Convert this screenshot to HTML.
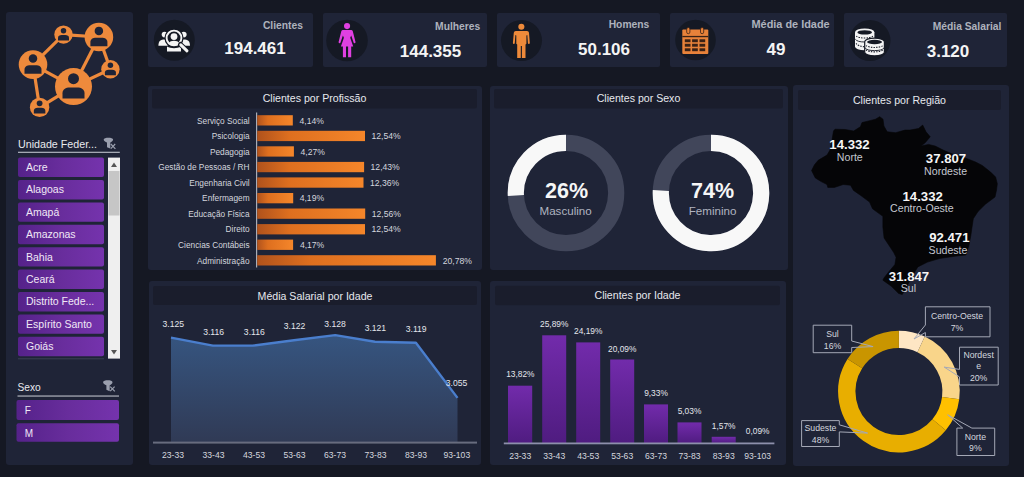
<!DOCTYPE html>
<html><head><meta charset="utf-8">
<style>
html,body{margin:0;padding:0;background:#151823;width:1024px;height:477px;overflow:hidden}
svg{display:block}
text{font-family:"Liberation Sans",sans-serif}
</style></head>
<body>
<svg width="1024" height="477" viewBox="0 0 1024 477">
<defs>
  <linearGradient id="gPurp" x1="0" y1="0" x2="1" y2="0">
    <stop offset="0" stop-color="#55228a"/><stop offset="0.5" stop-color="#682d9c"/><stop offset="1" stop-color="#7533ad"/>
  </linearGradient>
  <linearGradient id="gOr" x1="0" y1="0" x2="1" y2="0">
    <stop offset="0" stop-color="#b0521c"/><stop offset="0.3" stop-color="#de6f1f"/><stop offset="1" stop-color="#f5862a"/>
  </linearGradient>
  <linearGradient id="gBarP" x1="0" y1="0" x2="0" y2="1">
    <stop offset="0" stop-color="#722bab"/><stop offset="1" stop-color="#4f1c80"/>
  </linearGradient>
  <linearGradient id="gArea" x1="0" y1="0" x2="0" y2="1">
    <stop offset="0" stop-color="#365580"/><stop offset="1" stop-color="#303a55"/>
  </linearGradient>
  <g id="person">
    <circle cx="0" cy="-0.36" r="0.25"/>
    <path d="M-0.5 0.54 L-0.5 0.3 C-0.5 0.12 -0.36 0.04 -0.16 0.04 L0.16 0.04 C0.36 0.04 0.5 0.12 0.5 0.3 L0.5 0.54 Z"/>
  </g>
</defs>

<!-- ============ LEFT PANEL ============ -->
<rect x="6" y="12" width="127" height="453" rx="3" fill="#1f2437"/>
<!-- logo -->
<g stroke="#ee8a3c" stroke-width="3.2" fill="none">
  <line x1="33" y1="64.6" x2="63.5" y2="34.6"/>
  <line x1="63.5" y1="34.6" x2="98.9" y2="37"/>
  <line x1="98.9" y1="37" x2="73.5" y2="86.6"/>
  <line x1="98.9" y1="37" x2="110.4" y2="69.3"/>
  <line x1="110.4" y1="69.3" x2="73.5" y2="86.6"/>
  <line x1="33" y1="64.6" x2="73.5" y2="86.6"/>
  <line x1="33" y1="64.6" x2="39.6" y2="107.4"/>
  <line x1="39.6" y1="107.4" x2="73.5" y2="86.6"/>
</g>
<g fill="#ee8a3c">
  <circle cx="63.5" cy="34.6" r="9.2"/>
  <circle cx="98.9" cy="37" r="14.3"/>
  <circle cx="33" cy="64.6" r="14.3"/>
  <circle cx="110.4" cy="69.3" r="9.2"/>
  <circle cx="73.5" cy="86.6" r="18.5"/>
  <circle cx="39.6" cy="107.4" r="9.7"/>
</g>
<g fill="#1f2437">
  <use href="#person" transform="translate(63.5 34.6) scale(11)"/>
  <use href="#person" transform="translate(98.9 37) scale(17)"/>
  <use href="#person" transform="translate(33 64.6) scale(17)"/>
  <use href="#person" transform="translate(110.4 69.3) scale(11)"/>
  <use href="#person" transform="translate(73.5 86.6) scale(22)"/>
  <use href="#person" transform="translate(39.6 107.4) scale(11.5)"/>
</g>

<!-- slicer UF -->
<text x="18" y="147.5" font-size="10.7" fill="#e8e9ee">Unidade Feder...</text>
<g transform="translate(0 0)" fill="#9a9fae">
  <path d="M103.7 139.6 C103.7 137.1 113.1 137.1 113.1 139.6 C113.1 141 111.6 142 110.3 142.6 L110.3 148.6 L107 147.2 L107 142.6 C105.3 142 103.7 141 103.7 139.6 Z"/>
  <path d="M110.8 144 L115.4 148.8 M115.2 144 L110.8 148.6" stroke="#9a9fae" stroke-width="1.2" fill="none"/>
</g>
<rect x="18" y="151.7" width="101.8" height="1.3" fill="#a4a8b3"/>
<g font-size="10.5" fill="#f0e8f6">
  <rect x="18" y="157.6" width="86" height="19.4" rx="2" fill="url(#gPurp)"/><text x="26" y="171">Acre</text>
  <rect x="18" y="180" width="86" height="19.4" rx="2" fill="url(#gPurp)"/><text x="26" y="193.4">Alagoas</text>
  <rect x="18" y="202.4" width="86" height="19.4" rx="2" fill="url(#gPurp)"/><text x="26" y="215.8">Amapá</text>
  <rect x="18" y="224.8" width="86" height="19.4" rx="2" fill="url(#gPurp)"/><text x="26" y="238.2">Amazonas</text>
  <rect x="18" y="247.2" width="86" height="19.4" rx="2" fill="url(#gPurp)"/><text x="26" y="260.6">Bahia</text>
  <rect x="18" y="269.6" width="86" height="19.4" rx="2" fill="url(#gPurp)"/><text x="26" y="283">Ceará</text>
  <rect x="18" y="292" width="86" height="19.4" rx="2" fill="url(#gPurp)"/><text x="26" y="305.4">Distrito Fede...</text>
  <rect x="18" y="314.4" width="86" height="19.4" rx="2" fill="url(#gPurp)"/><text x="26" y="327.8">Espírito Santo</text>
  <rect x="18" y="336.8" width="86" height="19.4" rx="2" fill="url(#gPurp)"/><text x="26" y="350.2">Goiás</text>
</g>
<rect x="18" y="358.3" width="86" height="1" fill="#3b4054"/>
<!-- scrollbar -->
<rect x="108" y="157.6" width="12" height="201" fill="#efefef"/>
<rect x="108.5" y="171" width="11" height="44.5" fill="#c6c6c6"/>
<path d="M111 167 L114 162.5 L117 167 Z" fill="#555"/>
<path d="M111 350 L114 354.5 L117 350 Z" fill="#555"/>

<!-- slicer Sexo -->
<text x="17.5" y="391" font-size="10.2" fill="#e8e9ee">Sexo</text>
<g transform="translate(-0.6 242.6)" fill="#9a9fae">
  <path d="M103.7 139.6 C103.7 137.1 113.1 137.1 113.1 139.6 C113.1 141 111.6 142 110.3 142.6 L110.3 148.6 L107 147.2 L107 142.6 C105.3 142 103.7 141 103.7 139.6 Z"/>
  <path d="M110.8 144 L115.4 148.8 M115.2 144 L110.8 148.6" stroke="#9a9fae" stroke-width="1.2" fill="none"/>
</g>
<rect x="17.5" y="395.4" width="101.5" height="1.3" fill="#a4a8b3"/>
<g font-size="10" fill="#f0e8f6">
  <rect x="16.5" y="400" width="102.5" height="20" rx="2" fill="url(#gPurp)"/><text x="24.7" y="414.4">F</text>
  <rect x="16.5" y="423.2" width="102.5" height="18.6" rx="2" fill="url(#gPurp)"/><text x="24.7" y="436.8">M</text>
</g>

<!-- ============ KPI CARDS ============ -->
<g fill="#1f2437">
  <rect x="148" y="13" width="165" height="54" rx="2"/>
  <rect x="323" y="13" width="164" height="54" rx="2"/>
  <rect x="497" y="13" width="163" height="54" rx="2"/>
  <rect x="670" y="13" width="164" height="54" rx="2"/>
  <rect x="844" y="13" width="163" height="54" rx="2"/>
</g>
<g fill="#151924">
  <circle cx="174.3" cy="40.2" r="20.5"/>
  <circle cx="347" cy="40.5" r="20.8"/>
  <circle cx="521.5" cy="40.5" r="20.5"/>
  <circle cx="695.5" cy="40" r="20.3"/>
  <circle cx="870" cy="40.5" r="20.5"/>
</g>
<g font-weight="bold" text-anchor="end" fill="#aeb2bd" font-size="10.3">
  <text x="303" y="28.8">Clientes</text>
  <text x="480.3" y="29.9">Mulheres</text>
  <text x="649.3" y="28.2">Homens</text>
  <text x="829.6" y="27.8" font-size="10.9">Média de Idade</text>
  <text x="1001.4" y="29.8">Média Salarial</text>
</g>
<g font-weight="bold" text-anchor="middle" fill="#f4f4f4" font-size="17">
  <text x="255" y="53.7">194.461</text>
  <text x="430.5" y="56.9">144.355</text>
  <text x="604" y="55">50.106</text>
  <text x="776" y="55.2">49</text>
  <text x="948" y="56.6">3.120</text>
</g>
<!-- icon clientes -->
<g fill="#f4f4f4">
  <circle cx="164.5" cy="34.6" r="2.8"/>
  <path d="M158.4 45.8 C158.4 40.6 160.8 39.4 164.5 39.4 C167 39.4 168.5 40 169 41 L167.5 45.8 Z"/>
  <circle cx="183.8" cy="34.6" r="2.8"/>
  <path d="M190 45.8 C190 40.6 187.6 39.4 183.8 39.4 C181.5 39.4 180 40 179.5 41 L181 45.8 Z"/>
</g>
<circle cx="174" cy="38" r="9.6" fill="#151924"/>
<g fill="#f4f4f4">
  <path d="M167 51.6 L167 46.5 C169 47.6 171.5 48.2 174 48.2 C176.5 48.2 179 47.6 181 46.5 L181 51.6 Z"/>
</g>
<circle cx="174" cy="38" r="7.4" fill="none" stroke="#f4f4f4" stroke-width="1.9"/>
<g fill="#f4f4f4">
  <circle cx="174" cy="36.6" r="3.4"/>
  <path d="M168.6 43.6 C169.6 41.4 171.6 40.8 174 40.8 C176.4 40.8 178.4 41.4 179.4 43.6 C178 45 176 45.6 174 45.6 C172 45.6 170 45 168.6 43.6 Z"/>
</g>
<line x1="180.5" y1="44.5" x2="187.2" y2="51" stroke="#151924" stroke-width="5" stroke-linecap="round"/>
<line x1="180.8" y1="44.8" x2="187" y2="50.8" stroke="#f4f4f4" stroke-width="3" stroke-linecap="round"/>
<!-- icon woman -->
<g fill="#e040e2">
  <circle cx="347.05" cy="26.1" r="3.05"/>
  <path d="M342.9 30 L351.2 30 Q352.4 30 352.8 31.2 L355.5 42 Q355.6 43.2 354.4 43.2 Q353.8 43.2 353.6 42.6 L351.2 35.5 L350.2 37.8 L353.2 46.6 L351.2 46.6 L351.2 57.2 L348.1 57.2 L348.1 46.6 L346 46.6 L346 57.2 L342.9 57.2 L342.9 46.6 L340.9 46.6 L343.9 37.8 L342.9 35.5 L340.5 42.6 Q340.3 43.2 339.7 43.2 Q338.5 43.2 338.6 42 L341.3 31.2 Q341.7 30 342.9 30 Z"/>
</g>
<!-- icon man -->
<g fill="#ee8a3a">
  <circle cx="521.35" cy="26.8" r="3.05"/>
  <path d="M515.8 30.9 L527 30.9 Q528.8 30.9 529 32.8 L529.8 43 Q529.8 44 528.8 44 Q528 44 527.9 43 L527.3 35 L526.4 35.5 L526.4 43.8 L525.5 44.5 L525.5 58.1 L521.9 58.1 L521.9 46 L520.8 46 L520.8 58.1 L517.2 58.1 L517.2 44.5 L516.3 43.8 L516.3 35.5 L515.4 35 L514.8 43 Q514.7 44 513.9 44 Q512.9 44 512.9 43 L513.8 32.8 Q514 30.9 515.8 30.9 Z"/>
</g>
<!-- icon calendar -->
<g>
  <rect x="682.3" y="29.6" width="26" height="24.4" rx="1" fill="#e8823a"/>
  <rect x="682.3" y="35.9" width="26" height="1.3" fill="#3a2216"/>
  <g fill="#3a2216"><rect x="684.8" y="39.3" width="5.7" height="2.9"/><rect x="692.1" y="39.3" width="5.7" height="2.9"/><rect x="699.5" y="39.3" width="5.7" height="2.9"/><rect x="684.8" y="43.8" width="5.7" height="2.9"/><rect x="692.1" y="43.8" width="5.7" height="2.9"/><rect x="699.5" y="43.8" width="5.7" height="2.9"/><rect x="684.8" y="48.3" width="5.7" height="2.9"/><rect x="692.1" y="48.3" width="5.7" height="2.9"/><rect x="699.5" y="48.3" width="5.7" height="2.9"/></g>
  <rect x="686.7" y="27.5" width="3.2" height="6.2" rx="1.6" fill="#e8823a" stroke="#3a2216" stroke-width="0.8"/>
  <rect x="700.5" y="27.5" width="3.2" height="6.2" rx="1.6" fill="#e8823a" stroke="#3a2216" stroke-width="0.8"/>
</g>
<!-- icon coins -->
<g>
  <path d="M855 32.2 L855 46.6 A9.7 3.7 0 0 0 874.4 46.6 L874.4 32.2 A9.7 3.7 0 0 0 855 32.2 Z" fill="#f4f4f4"/>
  <ellipse cx="864.7" cy="32.4" rx="7.3" ry="2.2" fill="#151924"/>
  <path d="M855.3 39.2 A9.7 3.7 0 0 0 874.1 39.2" stroke="#151924" stroke-width="0.9" fill="none"/>
  <path d="M856.3 36.2 A9.7 3.7 0 0 0 873.1 36.2" stroke="#151924" stroke-width="1.1" fill="none" stroke-dasharray="1.4 1.2"/>
  <path d="M856.3 43.2 A9.7 3.7 0 0 0 866 46.8" stroke="#151924" stroke-width="1.1" fill="none" stroke-dasharray="1.4 1.2"/>
  <path d="M864.7 41.8 L864.7 52.2 A9.85 3.7 0 0 0 884.4 52.2 L884.4 41.8 A9.85 3.7 0 0 0 864.7 41.8 Z" fill="#f4f4f4" stroke="#151924" stroke-width="1.2"/>
  <ellipse cx="874.55" cy="42" rx="7.5" ry="2.2" fill="#151924"/>
  <path d="M865 47.8 A9.85 3.7 0 0 0 884.1 47.8" stroke="#151924" stroke-width="0.9" fill="none"/>
  <path d="M866 45.6 A9.85 3.7 0 0 0 883.1 45.6" stroke="#151924" stroke-width="1.1" fill="none" stroke-dasharray="1.4 1.2"/>
  <path d="M866 50 A9.85 3.7 0 0 0 883.1 50" stroke="#151924" stroke-width="1.1" fill="none" stroke-dasharray="1.4 1.2"/>
</g>

<!-- ============ PROFISSAO ============ -->
<rect x="148" y="86" width="334" height="184" rx="3" fill="#1f2437"/>
<rect x="152" y="89" width="325" height="19.5" rx="2" fill="#1a1d2c"/>
<text x="314.5" y="102.3" font-size="10.6" text-anchor="middle" fill="#e6e8ee">Clientes por Profissão</text>
<rect x="256" y="112.5" width="1.2" height="155" fill="#a9adb8"/>
<g fill="url(#gOr)">
  <rect x="257.2" y="115.2" width="35.6" height="10.3"/>
  <rect x="257.2" y="130.8" width="107.8" height="10.3"/>
  <rect x="257.2" y="146.3" width="36.7" height="10.3"/>
  <rect x="257.2" y="161.9" width="106.9" height="10.3"/>
  <rect x="257.2" y="177.4" width="106.3" height="10.3"/>
  <rect x="257.2" y="193" width="36" height="10.3"/>
  <rect x="257.2" y="208.5" width="108" height="10.3"/>
  <rect x="257.2" y="224.1" width="107.8" height="10.3"/>
  <rect x="257.2" y="239.6" width="35.9" height="10.3"/>
  <rect x="257.2" y="255.2" width="178.7" height="10.3"/>
</g>
<g font-size="8.3" text-anchor="end" fill="#d4d6de">
  <text x="249.6" y="123.5">Serviço Social</text>
  <text x="249.6" y="139.1">Psicologia</text>
  <text x="249.6" y="154.6">Pedagogia</text>
  <text x="249.6" y="170.2">Gestão de Pessoas / RH</text>
  <text x="249.6" y="185.7">Engenharia Civil</text>
  <text x="249.6" y="201.3">Enfermagem</text>
  <text x="249.6" y="216.8">Educação Física</text>
  <text x="249.6" y="232.4">Direito</text>
  <text x="249.6" y="247.9">Ciencias Contábeis</text>
  <text x="249.6" y="263.5">Administração</text>
</g>
<g font-size="8.6" fill="#d4d6de">
  <text x="299.5" y="123.5">4,14%</text>
  <text x="371.5" y="139.1">12,54%</text>
  <text x="300.6" y="154.6">4,27%</text>
  <text x="370.6" y="170.2">12,43%</text>
  <text x="370" y="185.7">12,36%</text>
  <text x="299.7" y="201.3">4,19%</text>
  <text x="371.7" y="216.8">12,56%</text>
  <text x="371.5" y="232.4">12,54%</text>
  <text x="299.9" y="247.9">4,17%</text>
  <text x="442.8" y="263.5">20,78%</text>
</g>

<!-- ============ SEXO ============ -->
<rect x="490" y="86" width="298" height="184" rx="3" fill="#1f2437"/>
<rect x="494" y="89" width="289" height="19.5" rx="2" fill="#1a1d2c"/>
<text x="638.5" y="102.3" font-size="10.6" text-anchor="middle" fill="#e6e8ee">Clientes por Sexo</text>
<!-- ring masc -->
<circle cx="566" cy="193" r="50.2" fill="none" stroke="#41465a" stroke-width="16.2"/>
<path d="M566 142.8 A50.2 50.2 0 0 0 515.86 195.5" fill="none" stroke="#f8f8f8" stroke-width="16.2"/>
<circle cx="711" cy="193" r="50.2" fill="none" stroke="#41465a" stroke-width="16.2"/>
<path d="M711 142.8 A50.2 50.2 0 1 1 660.86 190.5" fill="none" stroke="#f8f8f8" stroke-width="16.2"/>
<g font-weight="bold" font-size="21.5" text-anchor="middle" fill="#f6f6f6">
  <text x="566.5" y="197.5">26%</text>
  <text x="712.6" y="197.5">74%</text>
</g>
<g font-size="11.6" text-anchor="middle" fill="#b0b4c0">
  <text x="565.6" y="214.8">Masculino</text>
  <text x="712.6" y="214.8">Feminino</text>
</g>

<!-- ============ REGIAO ============ -->
<rect x="793" y="85" width="216" height="381" rx="3" fill="#1f2437"/>
<rect x="798" y="90" width="203" height="20" rx="2" fill="#1a1d2c"/>
<text x="899.5" y="103.5" font-size="10.6" text-anchor="middle" fill="#e6e8ee">Clientes por Região</text>
<path fill="#050507" stroke="#050507" stroke-width="0.6" stroke-linejoin="round" d="M833.5 131.0 L835.0 129.2 L845.0 129.5 L853.7 131.0 L860.4 126.8 L862.0 122.6 L868.8 120.9 L875.5 119.2 L879.7 116.7 L883.0 119.2 L883.9 126.0 L887.2 131.8 L895.6 132.7 L905.0 130.1 L910.0 130.1 L918.5 128.5 L922.7 125.1 L926.0 131.8 L930.2 136.8 L925.2 142.7 L921.0 146.1 L928.5 144.4 L935.2 146.1 L943.6 150.3 L955.0 155.0 L967.1 158.7 L975.5 162.0 L982.2 165.4 L990.6 172.1 L995.6 177.1 L997.3 183.8 L996.5 190.0 L995.0 197.0 L985.3 204.3 L978.0 211.5 L973.3 218.7 L972.0 227.2 L970.8 235.6 L969.0 245.0 L966.0 254.9 L956.4 256.0 L939.5 258.5 L927.5 262.1 L917.8 266.9 L914.2 273.0 L909.4 281.4 L905.8 288.6 L902.2 294.6 L898.6 293.4 L891.3 286.2 L882.9 280.2 L884.1 277.8 L888.9 271.7 L894.9 264.5 L896.1 257.3 L893.7 252.5 L888.9 245.2 L884.1 238.0 L882.9 227.2 L882.9 216.3 L878.4 213.1 L872.5 208.7 L869.6 202.1 L860.8 195.5 L853.5 190.4 L850.5 185.2 L843.2 184.5 L834.4 187.4 L827.8 187.4 L827.0 184.5 L821.2 181.6 L815.3 177.9 L811.6 170.6 L814.5 164.7 L818.2 160.3 L827.0 155.1 L830.0 150.0 L832.0 140.0 Z"/>
<g font-weight="bold" font-size="13.2" text-anchor="middle" fill="#f6f6f6">
  <text x="849.5" y="149.4">14.332</text>
  <text x="946" y="162.8">37.807</text>
  <text x="922.7" y="200.6">14.332</text>
  <text x="949.3" y="241.5">92.471</text>
  <text x="909" y="280.7">31.847</text>
</g>
<g font-size="10.6" text-anchor="middle" fill="#c4c7d0">
  <text x="849.8" y="161.4">Norte</text>
  <text x="945.6" y="175">Nordeste</text>
  <text x="921.9" y="212.2">Centro-Oeste</text>
  <text x="948" y="253.5">Sudeste</text>
  <text x="908.4" y="292.2">Sul</text>
</g>
<!-- donut -->
<g fill="none" stroke-width="17.3">
<path d="M898.90 339.45 A52.15 52.15 0 0 1 921.10 344.41" stroke="#fee6c4"/>
<path d="M921.10 344.41 A52.15 52.15 0 0 1 950.64 398.14" stroke="#f9d58a"/>
<path d="M950.64 398.14 A52.15 52.15 0 0 1 939.08 424.84" stroke="#ffc000"/>
<path d="M939.08 424.84 A52.15 52.15 0 0 1 854.87 363.66" stroke="#e8ae00"/>
<path d="M854.87 363.66 A52.15 52.15 0 0 1 898.90 339.45" stroke="#c99500"/>
</g>
<g fill="none" stroke="#a4a8b6" stroke-width="1">
  <path d="M813.2 325.2 L851.7 325.2 L851.7 341 L873.1 346.6 L851.7 347.5 L851.7 352.7 L813.2 352.7 Z"/>
  <path d="M801.6 420.6 L839.3 420.6 L839.3 424.8 L867.6 433.1 L839.3 431.9 L839.3 446.5 L801.6 446.5 Z"/>
  <path d="M925.4 306.8 L990 306.8 L990 336.8 L925.4 336.8 L925.4 332.5 L914 339 L925.4 325 Z"/>
  <path d="M959.5 347.2 L998.2 347.2 L998.2 385 L959.5 385 L959.5 376.9 L944.2 367.1 L959.5 369.4 Z"/>
  <path d="M956.9 428.1 L962.7 428.1 L947.7 414.8 L971.9 428.1 L994.7 428.1 L994.7 455.5 L956.9 455.5 Z"/>
</g>
<g font-size="8.7" text-anchor="middle" fill="#d4d7df">
  <text x="957" y="319.3">Centro-Oeste</text>
  <text x="957" y="330.7">7%</text>
  <text x="978.6" y="357.9">Nordest</text>
  <text x="978.6" y="368.8">e</text>
  <text x="978.6" y="381">20%</text>
  <text x="975.4" y="439.6">Norte</text>
  <text x="975.4" y="450.6">9%</text>
  <text x="820.5" y="430.9">Sudeste</text>
  <text x="820.5" y="442.7">48%</text>
  <text x="832.5" y="336.7">Sul</text>
  <text x="832.5" y="348.5">16%</text>
</g>

<!-- ============ SALARIO ============ -->
<rect x="149" y="281" width="332" height="184" rx="3" fill="#1f2437"/>
<rect x="153" y="286" width="324" height="19" rx="2" fill="#1a1d2c"/>
<text x="315" y="299.5" font-size="10.6" text-anchor="middle" fill="#e6e8ee">Média Salarial por Idade</text>
<path d="M171 337.6 L212.9 345.6 L252.7 345.6 L294 340.2 L335.2 335.1 L375 341.8 L415.9 342.8 L457.5 397.9 L457.5 442.5 L171 442.5 Z" fill="url(#gArea)"/>
<path d="M171 337.6 L212.9 345.6 L252.7 345.6 L294 340.2 L335.2 335.1 L375 341.8 L415.9 342.8 L457.5 397.9" fill="none" stroke="#4a7ecd" stroke-width="2.4" stroke-linejoin="round"/>
<rect x="153" y="441.6" width="324" height="2" fill="#686c7e"/>
<g font-size="8.6" text-anchor="middle" fill="#e4e6ec">
  <text x="173.3" y="326.7">3.125</text>
  <text x="213.6" y="334.5">3.116</text>
  <text x="254.3" y="334.5">3.116</text>
  <text x="294.5" y="329.2">3.122</text>
  <text x="335.1" y="326.7">3.128</text>
  <text x="375.4" y="331.3">3.121</text>
  <text x="416.2" y="332.4">3.119</text>
  <text x="456.5" y="386">3.055</text>
</g>
<g font-size="8.6" text-anchor="middle" fill="#d4d6de">
  <text x="173" y="458">23-33</text>
  <text x="213.5" y="458">33-43</text>
  <text x="254" y="458">43-53</text>
  <text x="294.5" y="458">53-63</text>
  <text x="335" y="458">63-73</text>
  <text x="375.5" y="458">73-83</text>
  <text x="416" y="458">83-93</text>
  <text x="456.8" y="458">93-103</text>
</g>

<!-- ============ IDADE ============ -->
<rect x="490" y="281" width="296" height="184" rx="3" fill="#1f2437"/>
<rect x="495" y="285.7" width="285" height="19.5" rx="2" fill="#1a1d2c"/>
<text x="637.5" y="299.3" font-size="10.6" text-anchor="middle" fill="#e6e8ee">Clientes por Idade</text>
<g fill="url(#gBarP)">
  <rect x="508" y="385.7" width="24.2" height="57.7"/>
  <rect x="542.2" y="335.3" width="24" height="108.1"/>
  <rect x="576.2" y="342.4" width="24" height="101"/>
  <rect x="610.2" y="359.5" width="24" height="83.9"/>
  <rect x="644" y="404.4" width="24" height="39"/>
  <rect x="677.5" y="422.4" width="24" height="21"/>
  <rect x="711.7" y="436.8" width="24" height="6.6"/>
  <rect x="745.7" y="443" width="24" height="0.4"/>
</g>
<rect x="503.8" y="442.5" width="270.6" height="1.8" fill="#8d8fab"/>
<g font-size="8.35" text-anchor="middle" fill="#e4e6ec">
  <text x="520.4" y="376.7">13,82%</text>
  <text x="554.2" y="327.2">25,89%</text>
  <text x="588.2" y="334.4">24,19%</text>
  <text x="622.2" y="352">20,09%</text>
  <text x="656" y="396">9,33%</text>
  <text x="689.5" y="414">5,03%</text>
  <text x="723.7" y="428.5">1,57%</text>
  <text x="757.7" y="434">0,09%</text>
</g>
<g font-size="8.6" text-anchor="middle" fill="#d4d6de">
  <text x="520.2" y="459">23-33</text>
  <text x="554.2" y="459">33-43</text>
  <text x="588.2" y="459">43-53</text>
  <text x="622.2" y="459">53-63</text>
  <text x="656" y="459">63-73</text>
  <text x="689.5" y="459">73-83</text>
  <text x="723.7" y="459">83-93</text>
  <text x="757.7" y="459">93-103</text>
</g>
</svg>
</body></html>
